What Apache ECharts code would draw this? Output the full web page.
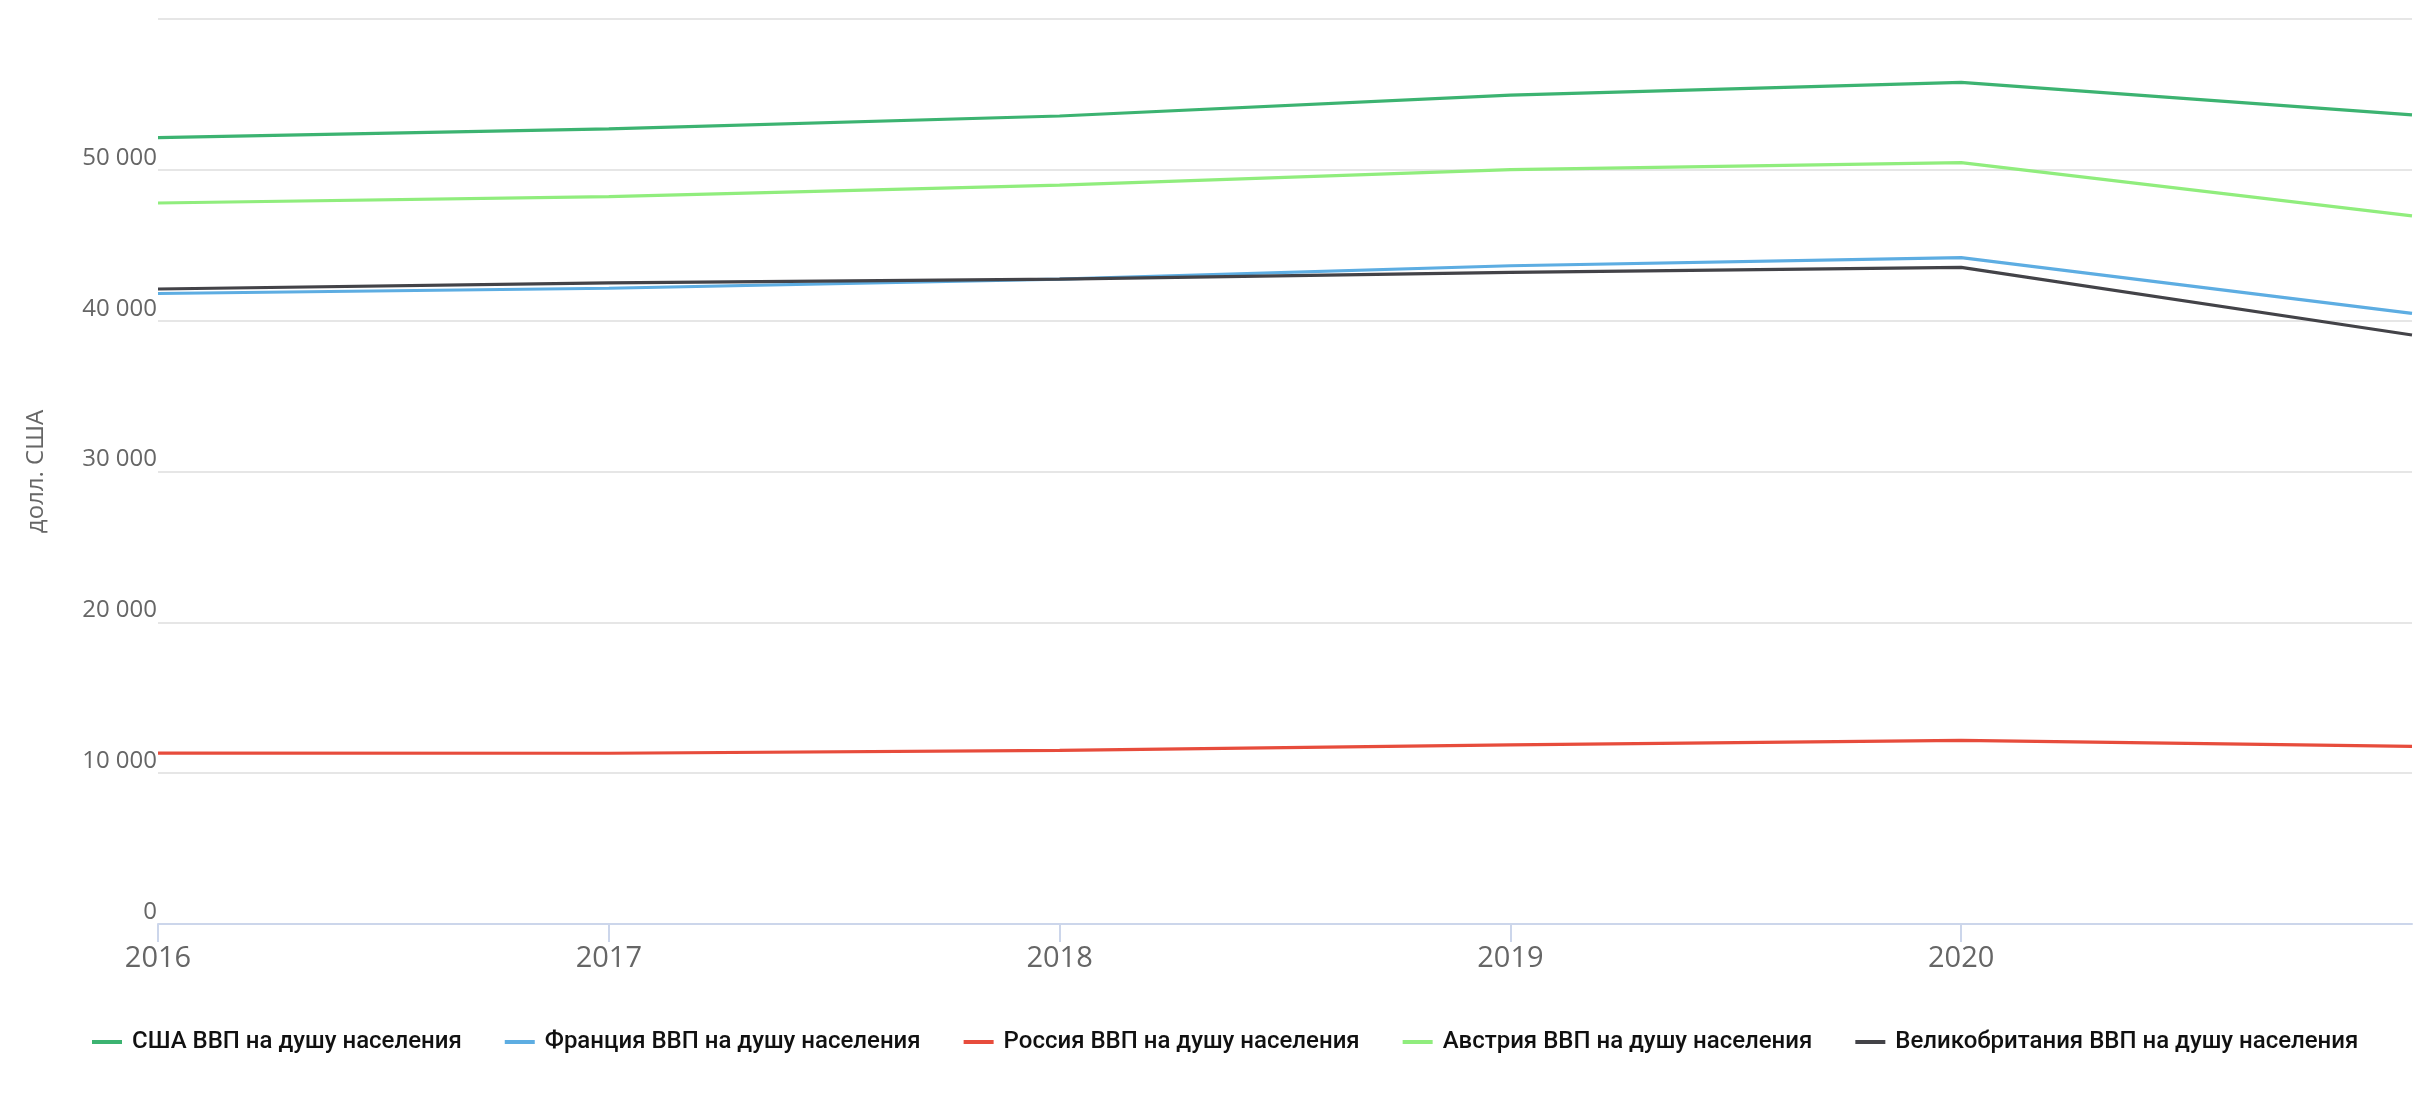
<!DOCTYPE html>
<html>
<head>
<meta charset="utf-8">
<script src="https://cdn.jsdelivr.net/npm/echarts@6/dist/echarts.min.js"></script>
<style>
  html, body { margin: 0; padding: 0; background: #fff; }
  #chart { width: 2432px; height: 1100px; }
</style>
</head>
<body>
<div id="chart"></div>
<script>
var years = ['2016', '2017', '2018', '2019', '2020', '2021'];
var usa = [52140, 52710, 53570, 54950, 55800, 53650];
var france = [41800, 42150, 42760, 43640, 44180, 40480];
var russia = [11330, 11320, 11510, 11880, 12170, 11770];
var austria = [47800, 48230, 48990, 50020, 50480, 46950];
var uk = [42100, 42500, 42760, 43200, 43530, 39050];

var seriesNames = [
  'США ВВП на душу населения',
  'Франция ВВП на душу населения',
  'Россия ВВП на душу населения',
  'Австрия ВВП на душу населения',
  'Великобритания ВВП на душу населения'
];
var seriesData = [usa, france, russia, austria, uk];
var colors = ['#3cb371', '#5dade2', '#e74c3c', '#90ed7d', '#434348'];

var chart = echarts.init(document.getElementById('chart'));

var series = [];
for (var i = 0; i < seriesNames.length; i++) {
  series.push({
    name: seriesNames[i],
    type: 'line',
    data: seriesData[i],
    showSymbol: false,
    symbol: 'none',
    lineStyle: { width: 3.2, color: colors[i] },
    itemStyle: { color: colors[i] }
  });
}

var option = {
  backgroundColor: '#fff',
  animation: false,
  color: colors,
  grid: { left: 158, right: 20, top: 19, bottom: 176 },
  legend: {
    data: seriesNames,
    left: 87,
    top: 1025,
    icon: 'rect',
    itemWidth: 30,
    itemHeight: 4,
    itemGap: 43,
    textStyle: {
      fontFamily: 'Roboto',
      fontSize: 24,
      fontWeight: 500,
      color: '#111',
      padding: [0, 0, 0, 5]
    }
  },
  xAxis: {
    type: 'category',
    data: years,
    boundaryGap: false,
    axisLine: { lineStyle: { color: '#ccd6eb', width: 2 } },
    axisTick: {
      length: 18,
      interval: function (index) { return index < years.length - 1; },
      lineStyle: { color: '#ccd6eb', width: 2 }
    },
    axisLabel: {
      margin: 20,
      fontFamily: 'Open Sans',
      fontSize: 29,
      color: '#666',
      formatter: function (v) { return v === '2021' ? '' : v; }
    },
    splitLine: { show: false }
  },
  yAxis: {
    type: 'value',
    min: 0,
    max: 60000,
    interval: 10000,
    name: 'долл. США',
    nameLocation: 'middle',
    nameGap: 110,
    nameTextStyle: { fontFamily: 'Open Sans', fontSize: 24, color: '#666' },
    axisLine: { show: false },
    axisTick: { show: false },
    splitLine: { lineStyle: { color: '#e6e6e6', width: 2 } },
    axisLabel: {
      showMaxLabel: false,
      margin: 1,
      verticalAlign: 'bottom',
      fontFamily: 'Open Sans',
      fontSize: 24,
      color: '#666',
      formatter: function (v) {
        return String(v).replace(/\B(?=(\d{3})+(?!\d))/g, ' ');
      }
    }
  },
  series: series
};

chart.setOption(option);
</script>
</body>
</html>
